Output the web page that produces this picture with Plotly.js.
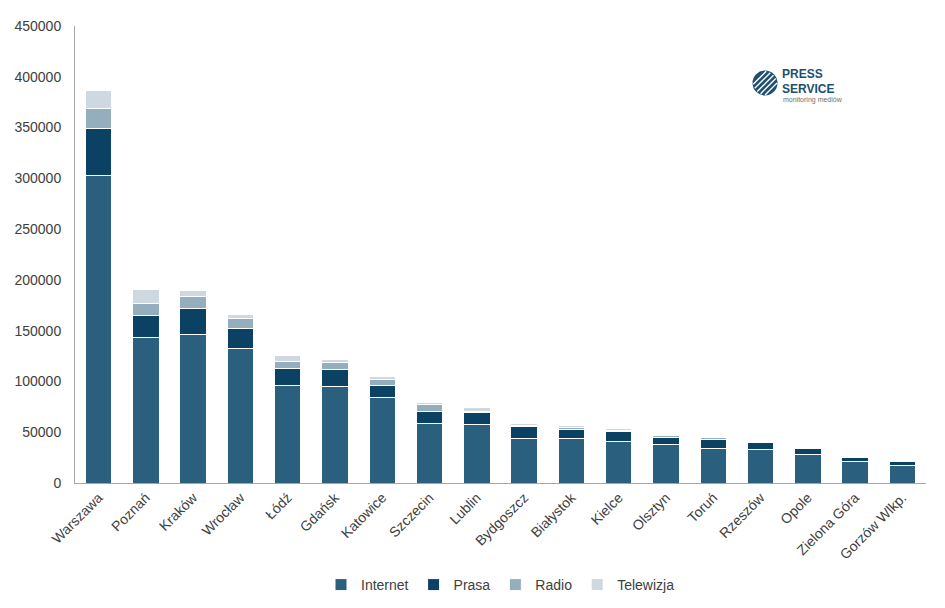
<!DOCTYPE html>
<html>
<head>
<meta charset="utf-8">
<script src="https://cdn.plot.ly/plotly-3.0.1.min.js"></script>
<style>html,body{margin:0;padding:0;background:#fff}#chart{width:945px;height:608px}</style>
</head>
<body>
<div id="chart"></div>
<script>
const cities = ["Warszawa","Poznań","Kraków","Wrocław","Łódź","Gdańsk","Katowice","Szczecin","Lublin","Bydgoszcz","Białystok","Kielce","Olsztyn","Toruń","Rzeszów","Opole","Zielona Góra","Gorzów Wlkp."];
const internet = [303000,143400,146600,132800,96400,94800,83900,58400,57400,43600,43600,41000,38400,33800,33200,28500,21000,17400];
const prasa    = [46000,21600,24900,19000,16100,17100,11800,12400,11800,11800,8600,9500,6900,9200,6500,5000,4300,3300];
const radio    = [19700,11400,12200,10600,7200,6500,6300,6600,1600,1600,2600,1600,1500,1500,400,300,200,200];
const telewizja= [18000,14200,5900,3600,5600,3600,3300,2300,4000,2000,1900,1500,1400,1700,300,200,100,100];
const seriesNames = ["Internet","Prasa","Radio","Telewizja"];
const seriesColors = ["#2a5f7d","#0b4264","#94aebd","#cdd8e0"];
const seriesData = [internet, prasa, radio, telewizja];

const traces = seriesData.map((vals, i) => ({
  type: "bar",
  name: seriesNames[i],
  x: cities,
  y: vals,
  marker: {color: seriesColors[i], line: {color: "#ffffff", width: 1}},
  width: 0.56
}));

// plot area geometry (pixels) used to place the decorative logo
const W = 945, H = 608, ML = 75, MR = 19, MT = 26, MB = 125;
const PW = W - ML - MR, PH = H - MT - MB;
const px = x => (x - ML) / PW;
const py = y => (H - MB - y) / PH;

// logo: circle with white stripes
const cx = 765, cy = 83, r = 12.5;
const shapes = [{type: "circle", xref: "paper", yref: "paper",
  x0: px(cx - r), x1: px(cx + r), y0: py(cy + r), y1: py(cy - r),
  fillcolor: "#1d4f6e", line: {width: 0}}];
const ux = Math.SQRT1_2, uy = -Math.SQRT1_2; // stripe direction (screen)
[-7.5, -3.5, 0.5, 4.5, 8.5].forEach(d => {
  const nx = cx + d * Math.SQRT1_2, ny = cy + d * Math.SQRT1_2;
  const half = Math.sqrt(Math.max(r * r - d * d, 0)) * 0.92;
  shapes.push({type: "line", xref: "paper", yref: "paper",
    x0: px(nx - half * ux), y0: py(ny - half * uy),
    x1: px(nx + half * ux), y1: py(ny + half * uy),
    line: {color: "#ffffff", width: 1.4}});
});

const layout = {
  width: W, height: H,
  barmode: "stack",
  margin: {l: ML, r: MR, t: MT, b: MB, autoexpand: false},
  paper_bgcolor: "#fff", plot_bgcolor: "#fff",
  font: {family: "Liberation Sans, Arial, sans-serif", size: 14, color: "#404040"},
  showlegend: true,
  legend: {orientation: "h", traceorder: "normal", x: 0.5, xanchor: "center",
           y: py(585), yanchor: "middle", font: {size: 14, color: "#404040"},
           itemwidth: 30},
  xaxis: {
    tickangle: -45, showline: true, linecolor: "#a6a6a6", linewidth: 1,
    ticks: "", showgrid: false, tickfont: {size: 14, color: "#404040"}, automargin: false
  },
  yaxis: {
    range: [0, 450000], dtick: 50000, showline: true, linecolor: "#a6a6a6", linewidth: 1,
    showgrid: false, zeroline: false, ticks: "", tickformat: "d", automargin: false,
    tickfont: {size: 14, color: "#404040"}, ticklabelstandoff: 10
  },
  shapes: shapes,
  annotations: [
    {xref: "paper", yref: "paper", x: px(780), y: py(74), xanchor: "left", yanchor: "middle",
     text: "<b>PRESS</b>", showarrow: false, font: {size: 12, color: "#1d4f6e", family: "Liberation Sans, Arial"}},
    {xref: "paper", yref: "paper", x: px(780), y: py(88.5), xanchor: "left", yanchor: "middle",
     text: "<b>SERVICE</b>", showarrow: false, font: {size: 12, color: "#1d4f6e", family: "Liberation Sans, Arial"}},
    {xref: "paper", yref: "paper", x: px(781), y: py(100.5), xanchor: "left", yanchor: "middle",
     text: "monitoring mediów", showarrow: false, font: {size: 7, color: "#707070", family: "Liberation Sans, Arial"}}
  ]
};

Plotly.newPlot("chart", traces, layout, {displayModeBar: false, staticPlot: true});
</script>
</body>
</html>
